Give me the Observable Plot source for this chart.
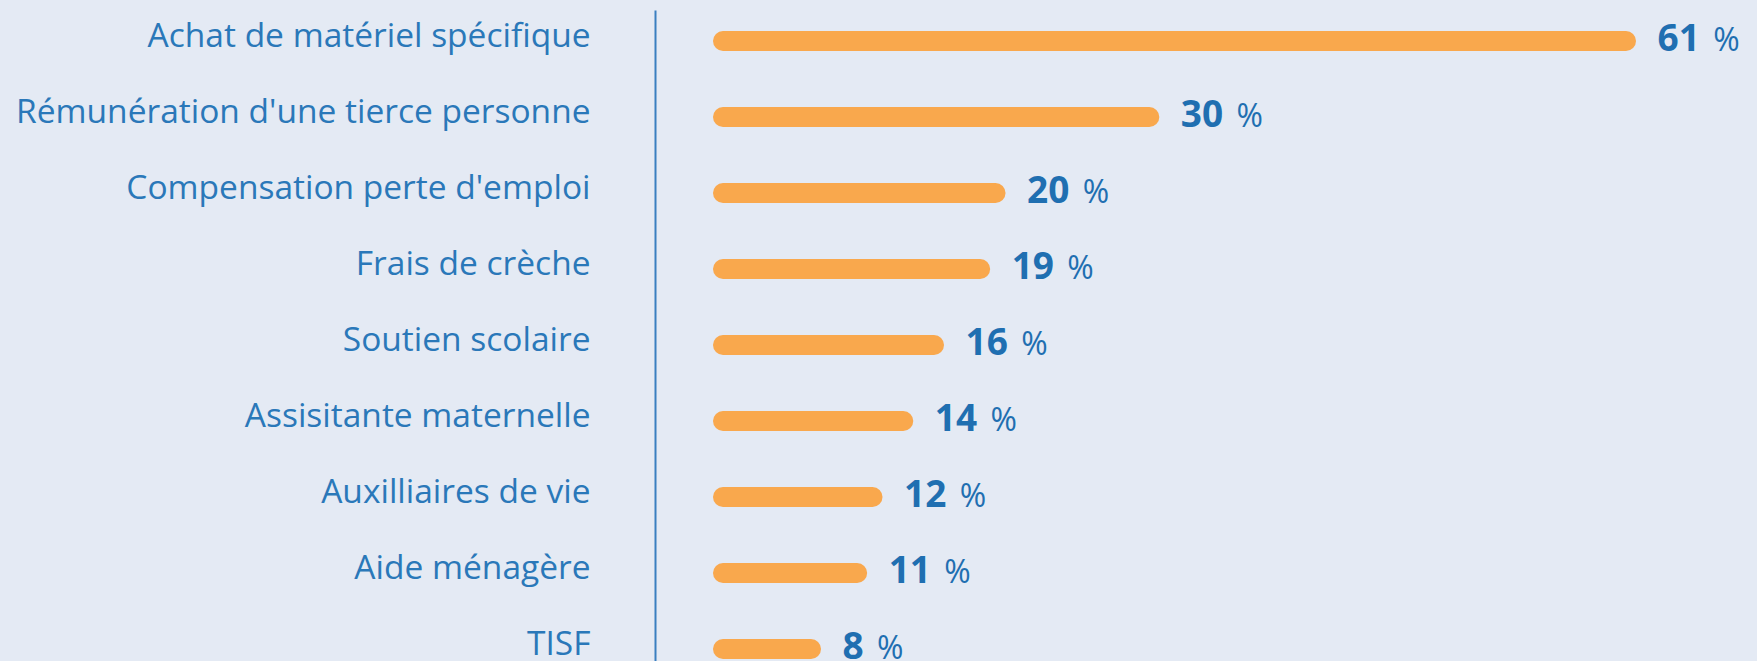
<!DOCTYPE html>
<html>
<head>
<meta charset="utf-8">
<script src="https://cdn.jsdelivr.net/npm/d3@7"></script>
<script src="https://cdn.jsdelivr.net/npm/@observablehq/plot@0.6"></script>
<style>
  html, body { margin: 0; padding: 0; background: #e4eaf4; }
  #chart svg { display: block; }
</style>
</head>
<body>
<div id="chart"></div>
<script>
const categories = [
  "Achat de matériel spécifique",
  "Rémunération d'une tierce personne",
  "Compensation perte d'emploi",
  "Frais de crèche",
  "Soutien scolaire",
  "Assisitante maternelle",
  "Auxilliaires de vie",
  "Aide ménagère",
  "TISF"
];
const values = [61, 30, 20, 19, 16, 14, 12, 11, 8];
const unit = "%";

const data = categories.map((c, i) => ({category: c, value: values[i]}));

const blue = "#2a78b9";
const chart = Plot.plot({
  width: 1757,
  height: 661,
  marginLeft: 655,
  marginTop: 11,
  marginBottom: 0,
  marginRight: 0,
  style: {background: "#e4eaf4", fontFamily: "Open Sans"},
  x: {domain: [0, 61], range: [698, 1636], axis: null},
  y: {domain: categories, range: [1.875, 688.125], padding: 0, axis: null},
  marks: [
    Plot.frame({anchor: "left", stroke: "#3a7fc0", strokeWidth: 2}),
    Plot.barX(data, {
      y: "category", x1: 0, x2: "value",
      insetLeft: 15, insetTop: 28, insetBottom: 28, rx: 10,
      fill: "#f9a84d"
    }),
    Plot.axisY({
      tickSize: 0, tickPadding: 65, fontSize: 33.5, color: blue, dy: -5, label: null
    }),
    Plot.text(data, {
      y: "category", x: "value",
      text: d => `${d.value} ${unit}`,
      dx: 21, dy: -2, textAnchor: "start",
      fontWeight: "bold", fontSize: 37, fill: "#1f6fb1"
    })
  ]
});
document.getElementById("chart").appendChild(chart);

// style the unit smaller and regular weight
const groups = chart.querySelectorAll("g[aria-label='text']");
const valueGroup = groups[groups.length - 1];
valueGroup.querySelectorAll("text").forEach(t => {
  const s = t.textContent;
  const num = s.split(" ")[0];
  t.textContent = num;
  const ts = document.createElementNS("http://www.w3.org/2000/svg", "tspan");
  ts.setAttribute("font-size", 32);
  ts.setAttribute("font-weight", "normal");
  ts.setAttribute("dx", 5);
  ts.textContent = " " + unit;
  t.appendChild(ts);
});
</script>
</body>
</html>
